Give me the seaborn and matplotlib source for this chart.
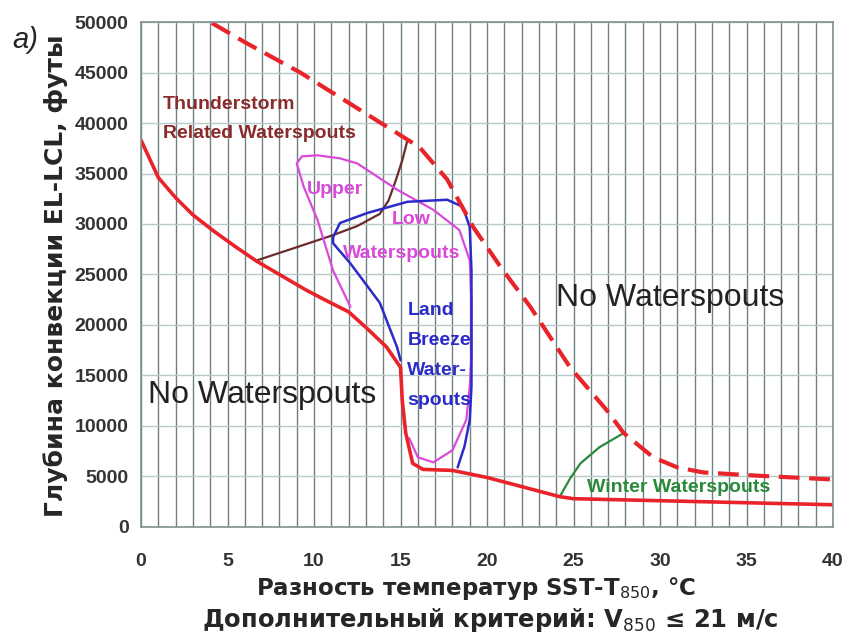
import matplotlib
matplotlib.use('Agg')
import matplotlib.pyplot as plt
import numpy as np
import pandas as pd
import seaborn as sns

sns.set_style('white')
plt.rcParams['font.family'] = ['Liberation Sans', 'DejaVu Sans']
plt.rcParams['mathtext.fontset'] = 'custom'
plt.rcParams['mathtext.rm'] = 'DejaVu Sans'

# lower boundary (solid red)
lower_x = [0, 1, 2, 3, 4.2, 5.5, 6.7, 8, 9.5, 10.5, 12, 13.1, 14.2, 15, 15.1, 15.3, 15.7, 16.3, 18, 20, 22, 24.2, 25, 30, 35, 40]
lower_y = [38300, 34600, 32600, 30900, 29300, 27700, 26300, 25000, 23500, 22600, 21300, 19600, 17800, 15800, 12500, 9300, 6300, 5700, 5600, 4900, 4000, 3000, 2800, 2600, 2400, 2200]

# upper boundary (dashed red)
upper_x = [4.1, 6, 9.2, 12, 14.8, 16.1, 17.7, 19.2, 20.8, 22.5, 24.8, 26.9, 27.9, 29.6, 31, 32.5, 35.4, 40]
upper_y = [49900, 48000, 45000, 42000, 39000, 37600, 34400, 29700, 25700, 21800, 15800, 11600, 9300, 6900, 5900, 5400, 5100, 4700]

# thunderstorm related waterspouts (brown)
storm_x = [6.7, 9, 11.1, 12.5, 13.8, 14.3, 14.7, 15.1, 15.4]
storm_y = [26400, 27700, 28900, 29800, 31000, 32300, 34200, 36300, 38300]

# upper low waterspouts (magenta)
upper_low_x = [12.1, 11.1, 10.2, 9.4, 9.0, 9.3, 10.2, 11.5, 12.5, 14.8, 16.9, 18.4, 19.0, 19.1, 19.1, 19.0, 18.8, 18.0, 16.9, 16.0, 15.5]
upper_low_y = [21800, 25400, 30400, 33700, 36000, 36700, 36800, 36500, 36000, 33400, 31400, 29400, 26400, 22200, 17000, 13900, 10600, 7600, 6400, 6900, 8800]

# land breeze waterspouts (blue)
land_x = [15.0, 14.8, 13.8, 12.1, 11.1, 11.1, 11.5, 13.1, 15.4, 17.7, 18.6, 19.0, 19.1, 19.1, 19.0, 18.7, 18.3]
land_y = [16500, 17800, 22200, 26100, 28100, 28700, 30100, 31100, 32200, 32400, 31700, 29700, 25400, 13900, 10600, 8000, 5900]

# winter waterspouts (green)
winter_x = [24.2, 24.8, 25.4, 26.5, 27.9]
winter_y = [3000, 4800, 6300, 7900, 9300]

x_ticks = list(range(0, 41, 5))
y_ticks = list(range(0, 50001, 5000))

fig = plt.figure(figsize=(8.46, 6.4), dpi=100)
ax = fig.add_axes([0.1667, 0.1766, 0.818, 0.789])

# grid
for v in range(0, 41):
    ax.axvline(v, color='#6f8080', lw=1.0, zorder=0)
for h in y_ticks:
    ax.axhline(h, color='#b9c9c9', lw=1.0, zorder=0)

def curve(xs, ys, color, lw, **kw):
    d = pd.DataFrame({'x': xs, 'y': ys})
    sns.lineplot(data=d, x='x', y='y', sort=False, estimator=None, color=color, lw=lw, ax=ax, **kw)

curve(storm_x, storm_y, '#6b2b2b', 1.6)
curve(upper_low_x, upper_low_y, '#d94ad9', 1.6)
curve(land_x, land_y, '#2b2bc8', 1.8)
curve(winter_x, winter_y, '#2a8a3a', 1.6)
curve(lower_x, lower_y, '#e8242a', 2.6)
curve(upper_x, upper_y, '#e8242a', 3.0, dashes=(5, 2.3))

ax.set_xlim(0, 40)
ax.set_ylim(0, 50000)
ax.set_xticks(x_ticks)
ax.set_yticks(y_ticks)
ax.tick_params(axis='x', length=5, width=1, color='#7f9090', pad=14, labelsize=14, labelcolor='#333333')
ax.tick_params(axis='y', length=4, width=1, color='#7f9090', pad=5, labelsize=14, labelcolor='#333333')
for lab in ax.get_xticklabels() + ax.get_yticklabels():
    lab.set_fontweight('bold')
for s in ax.spines.values():
    s.set_color('#7f9090')
    s.set_linewidth(1.2)

ax.set_xlabel('')
ax.set_ylabel('Глубина конвекции EL-LCL, футы', fontsize=18, fontweight='bold', family='DejaVu Sans')
ax.yaxis.set_label_coords(-0.105, 0.498)

fig.text(0.563, 0.081, r'Разность температур SST-T$_{\mathrm{850}}$, °C', ha='center', va='center',
         fontsize=16.5, fontweight='bold', family='DejaVu Sans')
fig.text(0.58, 0.031, r'Дополнительный критерий: V$_{\mathrm{850}}$ ≤ 21 м/с', ha='center', va='center',
         fontsize=17.5, fontweight='bold', family='DejaVu Sans')
fig.text(0.030, 0.937, 'a)', fontsize=21, fontstyle='italic', ha='center', va='center')

ax.text(1.27, 40400, 'Thunderstorm\nRelated Waterspouts', color='#8b2c2c', fontsize=14, fontweight='bold',
        va='center', ha='left', linespacing=1.9)
ax.text(9.6, 33400, 'Upper', color='#d94ad9', fontsize=14, fontweight='bold', ha='left', va='center')
ax.text(14.5, 30400, 'Low', color='#d94ad9', fontsize=14, fontweight='bold', ha='left', va='center')
ax.text(11.7, 27100, 'Waterspouts', color='#d94ad9', fontsize=14, fontweight='bold', ha='left', va='center')
ax.text(15.4, 17000, 'Land\nBreeze\nWater-\nspouts', color='#2b2bc8', fontsize=14, fontweight='bold',
        ha='left', va='center', linespacing=2.0)
ax.text(0.4, 13100, 'No Waterspouts', color='#222222', fontsize=23, ha='left', va='center')
ax.text(24.0, 22700, 'No Waterspouts', color='#222222', fontsize=23, ha='left', va='center')
ax.text(25.8, 3900, 'Winter Waterspouts', color='#2a8a3a', fontsize=14, fontweight='bold', ha='left', va='center')

fig.savefig('out.png', dpi=100)
